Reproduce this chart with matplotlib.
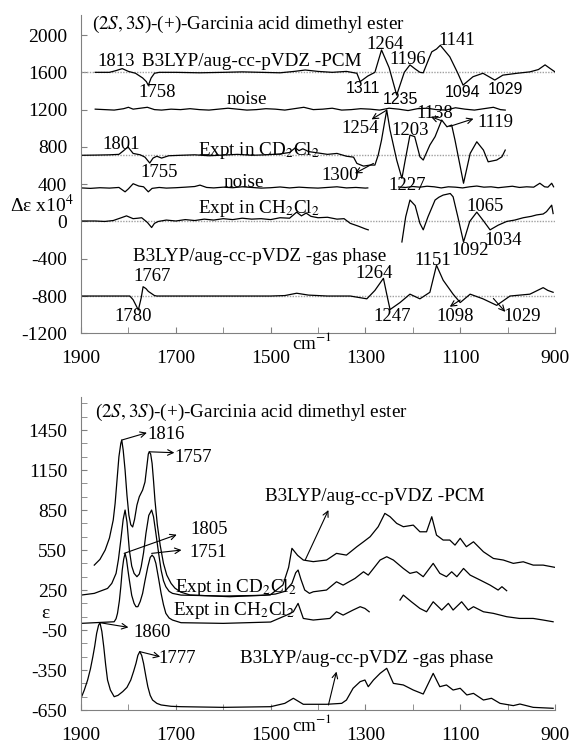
import matplotlib
matplotlib.use("Agg")
import matplotlib.pyplot as plt
from matplotlib.ticker import MultipleLocator, FixedLocator

plt.rcParams['font.family'] = ['Liberation Serif', 'DejaVu Serif']
plt.rcParams['mathtext.fontset'] = 'stix'
plt.rcParams['axes.unicode_minus'] = False

# ---------------- VCD (top panel) ----------------
pcm_vcd_x = [1870, 1840, 1825, 1813, 1800, 1785, 1770, 1762, 1758, 1752, 1745, 1735, 1700, 1650,
             1600, 1560, 1520, 1480, 1450, 1427, 1400, 1370, 1340, 1318, 1311, 1295, 1280, 1266,
             1250, 1234, 1218, 1206, 1196, 1185, 1178, 1165, 1160, 1150, 1142, 1122, 1105, 1094,
             1073, 1052, 1027, 1010, 980, 953, 935, 921, 910, 900]
pcm_vcd_y = [1600, 1600, 1620, 1640, 1610, 1590, 1540, 1500, 1460, 1540, 1590, 1600, 1600, 1595,
             1600, 1605, 1600, 1595, 1610, 1625, 1610, 1600, 1610, 1590, 1500, 1560, 1600, 1840,
             1650, 1356, 1600, 1680, 1640, 1600, 1595, 1760, 1820, 1850, 1890, 1767, 1590, 1463,
             1553, 1590, 1517, 1570, 1590, 1605, 1630, 1680, 1640, 1605]

noise1_x = [1870, 1850, 1830, 1810, 1800, 1790, 1775, 1760, 1745, 1730, 1710, 1690, 1670, 1650,
            1630, 1610, 1590, 1570, 1550, 1530, 1510, 1490, 1470, 1450, 1430, 1410, 1390, 1370,
            1350, 1330, 1310, 1290, 1270, 1250, 1230, 1210, 1190, 1170, 1150, 1130, 1110, 1090,
            1070, 1050, 1030, 1015, 1005]
noise1_y = [1205, 1200, 1195, 1210, 1225, 1205, 1215, 1225, 1200, 1195, 1205, 1200, 1210, 1200,
            1195, 1205, 1215, 1205, 1195, 1200, 1210, 1205, 1195, 1210, 1225, 1200, 1205, 1215,
            1195, 1200, 1210, 1205, 1195, 1215, 1205, 1190, 1210, 1215, 1200, 1195, 1220, 1205,
            1195, 1210, 1225, 1200, 1195]

cd_vcd_x = [1900, 1870, 1840, 1820, 1810, 1801, 1790, 1775, 1765, 1755, 1748, 1740, 1730, 1715,
            1690, 1660, 1630, 1600, 1570, 1540, 1510, 1480, 1460, 1448, 1440, 1432, 1420, 1400,
            1380, 1360, 1340, 1325, 1318, 1304, 1290, 1280, 1273, 1266, 1260, 1255, 1248, 1234,
            1223, 1216, 1206, 1196, 1185, 1178, 1164, 1153, 1139, 1128, 1118, 1111, 1093, 1079,
            1065, 1051, 1041, 1023, 1012, 1005]
cd_vcd_y = [710, 712, 715, 720, 760, 800, 730, 715, 690, 627, 680, 700, 680, 705,
            710, 715, 705, 712, 720, 710, 715, 725, 740, 790, 760, 780, 750, 735,
            720, 730, 700, 690, 623, 594, 605, 605, 712, 873, 1050, 1195, 980, 659,
            462, 659, 927, 910, 694, 659, 820, 910, 1088, 1016, 1034, 873, 410, 730,
            855, 766, 640, 659, 694, 766]

noise2a_x = [1900, 1880, 1860, 1840, 1820, 1807, 1800, 1790, 1778, 1768, 1758, 1750, 1735, 1720,
             1700, 1680, 1660, 1649, 1635, 1620, 1600, 1580, 1560, 1540, 1520, 1500, 1480, 1460,
             1440, 1420, 1400, 1380, 1360, 1340, 1320, 1300, 1295]
noise2a_y = [360, 355, 362, 358, 365, 318, 350, 405, 380, 372, 318, 355, 365, 358,
             362, 368, 375, 390, 365, 360, 368, 362, 372, 365, 358, 362, 370, 360,
             368, 362, 358, 365, 372, 360, 365, 358, 360]
noise2b_x = [1230, 1215, 1200, 1185, 1170, 1155, 1140, 1125, 1110, 1095, 1080, 1065, 1050, 1035,
             1020, 1005, 990, 975, 960, 945, 932, 922, 915, 907, 903]
noise2b_y = [370, 365, 375, 368, 378, 372, 360, 372, 368, 360, 372, 380, 368, 372,
             362, 370, 378, 365, 372, 368, 410, 372, 368, 410, 372]

ch_vcd_a_x = [1900, 1870, 1850, 1832, 1815, 1804, 1790, 1780, 1772, 1760, 1751, 1745, 1737, 1720,
              1700, 1680, 1660, 1640, 1620, 1600, 1580, 1560, 1540, 1520, 1500, 1480, 1460, 1445,
              1435, 1425, 1415, 1400, 1380, 1360, 1345, 1332, 1315, 1300, 1294]
ch_vcd_a_y = [5, 5, 0, 10, 40, 60, 30, 35, 40, -10, -65, -20, 0, 15,
              5, 20, 10, 25, 15, 30, 20, 35, 25, 30, 20, 40, 35, 100,
              60, 90, 55, 40, 45, 25, 30, -20, -50, -80, -90]
ch_vcd_b_x = [1223, 1215, 1206, 1195, 1185, 1178, 1168, 1153, 1145, 1136, 1121, 1115, 1105, 1093,
              1080, 1065, 1050, 1037, 1020, 1002, 985, 967, 950, 939, 925, 918, 907, 904]
ch_vcd_b_y = [-220, 50, 230, 170, -20, -90, 50, 230, 260, 283, 300, 265, 50, -220,
              0, 100, 0, -90, -40, 0, 15, 40, 55, 70, 80, 105, 175, 85]

gas_vcd_x = [1900, 1820, 1797, 1790, 1779, 1773, 1769, 1763, 1758, 1745, 1740, 1700, 1600, 1500,
             1470, 1445, 1420, 1380, 1332, 1297, 1280, 1262, 1255, 1248, 1227, 1206, 1185, 1164,
             1150, 1136, 1115, 1100, 1079, 1052, 1023, 995, 953, 925, 915, 904]
gas_vcd_y = [-800, -800, -800, -840, -950, -820, -700, -720, -750, -795, -800, -800, -800, -800,
             -795, -770, -790, -800, -800, -830, -740, -610, -780, -945, -870, -780, -830, -760,
             -470, -630, -780, -870, -780, -830, -900, -800, -780, -710, -740, -760]

# ---------------- IR (bottom panel) ----------------
pcm_ir_x = [1872, 1860, 1849, 1840, 1832, 1828, 1824, 1820, 1816, 1814, 1811, 1807, 1803, 1799,
            1795, 1791, 1787, 1782, 1777, 1770, 1765, 1761, 1758, 1756, 1753, 1750, 1747, 1744,
            1739, 1733, 1726, 1719, 1710, 1702, 1690, 1670, 1586, 1501, 1474, 1462, 1455, 1443,
            1431, 1410, 1382, 1361, 1340, 1318, 1304, 1290, 1273, 1259, 1248, 1234, 1220, 1199,
            1185, 1171, 1160, 1150, 1136, 1122, 1111, 1100, 1087, 1072, 1051, 1030, 1009, 988,
            967, 946, 925, 900]
pcm_ir_y = [437, 480, 550, 640, 775, 900, 1075, 1250, 1350, 1375, 1300, 1150, 960, 812,
            740, 723, 780, 887, 950, 1000, 1060, 1180, 1270, 1287, 1270, 1200, 1070, 925,
            740, 587, 450, 362, 300, 265, 235, 213, 200, 213, 288, 420, 563, 510,
            475, 463, 475, 525, 512, 575, 612, 650, 725, 825, 800, 750, 725, 737,
            687, 687, 800, 662, 625, 625, 587, 638, 575, 612, 537, 487, 475, 450,
            462, 437, 437, 420]

cd_ir_x = [1900, 1872, 1844, 1835, 1826, 1821, 1816, 1811, 1807, 1803, 1798, 1793, 1788, 1782,
           1777, 1773, 1768, 1763, 1757, 1751, 1747, 1742, 1736, 1731, 1726, 1721, 1714, 1707,
           1689, 1600, 1520, 1490, 1470, 1455, 1447, 1442, 1436, 1428, 1418, 1410, 1382, 1361,
           1347, 1322, 1304, 1294, 1269, 1255, 1241, 1220, 1206, 1192, 1178, 1157, 1143, 1129,
           1118, 1107, 1093, 1079, 1058, 1037, 1020, 1012, 1002]
cd_ir_y = [212, 225, 262, 300, 375, 480, 625, 780, 850, 760, 550, 430, 375, 350,
           370, 425, 530, 675, 810, 850, 800, 675, 520, 400, 320, 275, 240, 225,
           212, 205, 210, 220, 240, 300, 380, 400, 330, 250, 225, 237, 250, 312,
           287, 337, 387, 362, 475, 500, 475, 412, 375, 387, 350, 450, 375, 350,
           387, 350, 412, 362, 325, 287, 250, 275, 245]

ch_ir_a_x = [1900, 1830, 1826, 1823, 1819, 1816, 1813, 1810, 1807, 1804, 1801, 1798, 1793, 1788,
             1784, 1780, 1775, 1770, 1765, 1759, 1754, 1750, 1746, 1742, 1736, 1731, 1726, 1721,
             1714, 1707, 1689, 1600, 1500, 1466, 1452, 1442, 1431, 1410, 1375, 1361, 1347, 1326,
             1311, 1301, 1292]
ch_ir_a_y = [0, 12, 35, 75, 170, 275, 400, 480, 525, 480, 400, 325, 210, 150,
             125, 125, 165, 225, 320, 425, 495, 512, 495, 450, 330, 225, 140, 75,
             40, 25, 5, 0, 10, 62, 87, 150, 37, 25, 37, 87, 62, 100,
             125, 112, 87]
ch_ir_b_x = [1227, 1220, 1203, 1185, 1171, 1157, 1139, 1125, 1115, 1097, 1083, 1072, 1051, 1030,
             1002, 975, 946, 925, 904]
ch_ir_b_y = [175, 212, 162, 112, 87, 162, 100, 150, 100, 162, 100, 125, 87, 75,
             50, 37, 37, 25, 12]

gas_ir_x = [1900, 1893, 1886, 1880, 1875, 1871, 1867, 1863, 1860, 1856, 1852, 1848, 1844, 1838,
            1830, 1822, 1812, 1803, 1795, 1789, 1784, 1780, 1776, 1772, 1768, 1763, 1759, 1754,
            1749, 1740, 1731, 1710, 1689, 1600, 1500, 1470, 1452, 1431, 1382, 1350, 1340, 1326,
            1311, 1301, 1294, 1283, 1269, 1255, 1241, 1220, 1199, 1178, 1157, 1143, 1129, 1115,
            1100, 1086, 1072, 1051, 1034, 1016, 988, 974, 946, 904]
gas_ir_y = [-562, -500, -425, -340, -250, -170, -75, -15, 5, -60, -175, -310, -425, -500,
            -550, -540, -512, -480, -425, -360, -300, -240, -212, -240, -300, -400, -475, -540,
            -575, -600, -612, -622, -625, -630, -625, -600, -562, -607, -607, -600, -575, -487,
            -437, -425, -475, -425, -375, -337, -450, -462, -500, -530, -375, -475, -462, -500,
            -487, -537, -525, -575, -562, -600, -617, -605, -630, -637]

LW = 0.9
FS = 13.8

fig = plt.figure(figsize=(5.72, 7.47), dpi=100)
ax1 = fig.add_axes([0.1416, 0.5538, 0.8287, 0.4261])
ax2 = fig.add_axes([0.1416, 0.0495, 0.8287, 0.4194])

for ax in (ax1, ax2):
    ax.spines['top'].set_visible(False)
    ax.spines['right'].set_visible(False)
    ax.spines['left'].set_color('#808080')
    ax.spines['bottom'].set_color('#808080')
    ax.set_xlim(1900, 900)
    ax.xaxis.set_major_locator(FixedLocator([1900, 1700, 1500, 1300, 1100, 900]))
    ax.xaxis.set_minor_locator(MultipleLocator(100))
    ax.tick_params(which='both', direction='in', length=4, color='#808080', labelsize=14)
    ax.tick_params(axis='x', pad=12)
    ax.tick_params(axis='y', pad=10)


def arrow(ax, tail, head):
    ax.annotate("", xy=head, xytext=tail,
                arrowprops=dict(arrowstyle='->', lw=0.8, color='black', shrinkA=0, shrinkB=0))


# ---- top panel ----
for yb in (1600, 0, -800):
    ax1.axhline(yb, color='#a0a0a0', ls=(0, (1, 1)), lw=1)
ax1.hlines(710, 1900, 1000, color='#a0a0a0', ls=(0, (1, 1)), lw=1)

ax1.plot(pcm_vcd_x, pcm_vcd_y, color='black', lw=LW)
ax1.plot(noise1_x, noise1_y, color='black', lw=LW)
ax1.plot(cd_vcd_x, cd_vcd_y, color='black', lw=LW)
ax1.plot(noise2a_x, noise2a_y, color='black', lw=LW)
ax1.plot(noise2b_x, noise2b_y, color='black', lw=LW)
ax1.plot(ch_vcd_a_x, ch_vcd_a_y, color='black', lw=LW)
ax1.plot(ch_vcd_b_x, ch_vcd_b_y, color='black', lw=LW)
ax1.plot(gas_vcd_x, gas_vcd_y, color='black', lw=LW)

ax1.set_ylim(-1200, 2215)
ax1.yaxis.set_major_locator(MultipleLocator(400))

title = "(" + r"$\mathit{2S,3S}$" + ")-(+)-Garcinia acid dimethyl ester"
ax1.text(1876, 2115, title, fontsize=FS, ha='left', va='center')
ax1.text(1771, 1720, "B3LYP/aug-cc-pVDZ -PCM", fontsize=FS, ha='left', va='center')
ax1.text(1550, 1313, "noise", fontsize=FS, ha='center', va='center')
ax1.text(1653, 766, r"Expt in CD$_2$Cl$_2$", fontsize=FS, ha='left', va='center')
ax1.text(1556, 423, "noise", fontsize=FS, ha='center', va='center')
ax1.text(1653, 144, r"Expt in CH$_2$Cl$_2$", fontsize=FS, ha='left', va='center')
ax1.text(1790, -379, "B3LYP/aug-cc-pVDZ -gas phase", fontsize=FS, ha='left', va='center')

serif_nums = [("1813", 1826, 1720), ("1758", 1739, 1388), ("1264", 1258, 1900),
              ("1196", 1211, 1742), ("1141", 1107, 1945), ("1254", 1311, 1000),
              ("1138", 1153, 1163), ("1119", 1026, 1059), ("1801", 1816, 830),
              ("1755", 1735, 530), ("1300", 1354, 498), ("1227", 1212, 390),
              ("1203", 1206, 981), ("1767", 1751, -593), ("1780", 1790, -1022),
              ("1264", 1282, -557), ("1151", 1157, -414), ("1247", 1244, -1015),
              ("1098", 1111, -1015), ("1029", 970, -1015), ("1065", 1047, 158),
              ("1092", 1079, -307), ("1034", 1010, -200)]
for s, x, y in serif_nums:
    ax1.text(x, y, s, fontsize=13.5, ha='center', va='center')
sans_nums = [("1311", 1305, 1431), ("1094", 1096, 1388), ("1029", 1005, 1420), ("1235", 1227, 1313)]
for s, x, y in sans_nums:
    ax1.text(x, y, s, fontsize=11.5, ha='center', va='center', family='Liberation Sans')

arrow(ax1, (1255, 1195), (1287, 1095))
arrow(ax1, (1139, 1080), (1162, 1124))
arrow(ax1, (1122, 1020), (1072, 1102))
arrow(ax1, (1283, 623), (1322, 516))
arrow(ax1, (1100, -843), (1122, -915))
arrow(ax1, (1030, -826), (1005, -970))

ax1.text(1413, -0.03, r"cm$^{-1}$", transform=ax1.get_xaxis_transform(),
         fontsize=FS, ha='center', va='center')
fig.text(42 / 572, 1 - 205 / 747, r"Δε x10$^4$", fontsize=14, ha='center', va='center')

# ---- bottom panel ----
ax2.plot(pcm_ir_x, pcm_ir_y, color='black', lw=LW)
ax2.plot(cd_ir_x, cd_ir_y, color='black', lw=LW)
ax2.plot(ch_ir_a_x, ch_ir_a_y, color='black', lw=LW)
ax2.plot(ch_ir_b_x, ch_ir_b_y, color='black', lw=LW)
ax2.plot(gas_ir_x, gas_ir_y, color='black', lw=LW)

ax2.set_ylim(-650, 1700)
ax2.yaxis.set_major_locator(FixedLocator([-650, -350, -50, 250, 550, 850, 1150, 1450]))
ax2.yaxis.set_minor_locator(FixedLocator(list(range(-650, 1700, 100))))

ax2.text(1870, 1580, title, fontsize=FS, ha='left', va='center')
ax2.text(1512, 950, "B3LYP/aug-cc-pVDZ -PCM", fontsize=FS, ha='left', va='center')
ax2.text(1702, 267, r"Expt in CD$_2$Cl$_2$", fontsize=FS, ha='left', va='center')
ax2.text(1706, 95, r"Expt in CH$_2$Cl$_2$", fontsize=FS, ha='left', va='center')
ax2.text(1565, -262, "B3LYP/aug-cc-pVDZ -gas phase", fontsize=FS, ha='left', va='center')

ir_nums = [("1816", 1760, 1420), ("1757", 1702, 1245), ("1805", 1670, 707),
           ("1751", 1672, 532), ("1860", 1790, -70), ("1777", 1737, -262)]
for s, x, y in ir_nums:
    ax2.text(x, y, s, fontsize=13.5, ha='left', va='center')

arrow(ax2, (1814, 1375), (1761, 1430))
arrow(ax2, (1756, 1287), (1703, 1280))
arrow(ax2, (1809, 525), (1698, 665))
arrow(ax2, (1751, 525), (1688, 550))
arrow(ax2, (1860, 5), (1800, -30))
arrow(ax2, (1776, -212), (1733, -250))
arrow(ax2, (1427, 475), (1378, 850))
arrow(ax2, (1378, -612), (1361, -362))

ax2.text(1413, -0.045, r"cm$^{-1}$", transform=ax2.get_xaxis_transform(),
         fontsize=FS, ha='center', va='center')
fig.text(45 / 572, 1 - 613 / 747, "ε", fontsize=14, ha='center', va='center')

fig.savefig("out.png", dpi=100)
